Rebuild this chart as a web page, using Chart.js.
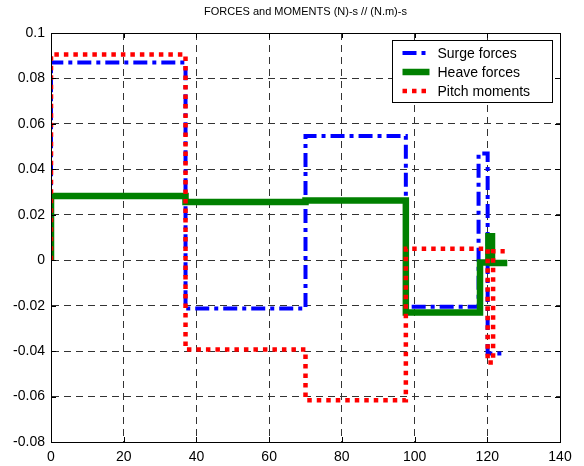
<!DOCTYPE html>
<html><head><meta charset="utf-8">
<script src="https://cdn.jsdelivr.net/npm/chart.js@4.4.1/dist/chart.umd.min.js"></script>
<style>html,body{margin:0;padding:0;background:#fff;}canvas{display:block}</style>
</head><body>
<canvas id="c" width="584" height="466"></canvas>
<script>
const chartTitle = 'FORCES and MOMENTS (N)-s // (N.m)-s';
const seriesNames = ['Surge forces', 'Heave forces', 'Pitch moments'];
const surgeX = [0, 0, 37, 37, 70, 70, 97.6, 97.6, 117.6, 117.6, 120.1, 120.1, 124.4];
const surgeY = [0, 0.087, 0.087, -0.0213, -0.0213, 0.0547, 0.0547, -0.0205, -0.0205, 0.047, 0.047, -0.041, -0.041];
const heaveX = [0, 0, 37, 37, 70, 70, 97.6, 97.6, 118, 118, 120.3, 120.3, 121.3, 121.3, 125.5];
const heaveY = [0, 0.0283, 0.0283, 0.0256, 0.0256, 0.0263, 0.0263, -0.023, -0.023, -0.001, -0.001, 0.0105, 0.0105, -0.0012, -0.0012];
const pitchX = [0, 0, 37, 37, 70, 70, 97.6, 97.6, 120.1, 120.1, 121.6, 121.6, 124.8];
const pitchY = [0, 0.0905, 0.0905, -0.0393, -0.0393, -0.0616, -0.0616, 0.0051, 0.0051, -0.045, -0.045, 0.004, 0.004];
const xTicks = [0, 20, 40, 60, 80, 100, 120, 140];
const yTicks = [-0.08, -0.06, -0.04, -0.02, 0, 0.02, 0.04, 0.06, 0.08, 0.1];

const FONT = "'Liberation Sans', Arial, sans-serif";
function pts(xs, ys) { return xs.map((x, i) => ({ x: x, y: ys[i] })); }
const common = { pointRadius: 0, pointHoverRadius: 0, fill: false, tension: 0, borderCapStyle: 'butt', borderJoinStyle: 'miter' };
const datasets = [
  Object.assign({ label: seriesNames[0], data: pts(surgeX, surgeY), borderColor: '#0000ff', borderWidth: 4, borderDash: [14, 5, 4, 5], order: 3 }, common),
  Object.assign({ label: seriesNames[1], data: pts(heaveX, heaveY), borderColor: '#008000', borderWidth: 6.5, borderDash: [], order: 2 }, common),
  Object.assign({ label: seriesNames[2], data: pts(pitchX, pitchY), borderColor: '#ff0000', borderWidth: 4.5, borderDash: [4.5, 5], order: 1 }, common)
];

const framePlugin = {
  id: 'frame',
  afterLayout(chart) {
    // centre the title over the plotting area, as MATLAB does
    if (chart.titleBlock) {
      chart.titleBlock.left = chart.chartArea.left;
      chart.titleBlock.right = chart.chartArea.right;
    }
  },
  afterDraw(chart) {
    const ctx = chart.ctx, a = chart.chartArea;
    const xs = chart.scales.x, ys = chart.scales.y;
    ctx.save();
    ctx.strokeStyle = '#000';
    ctx.lineWidth = 1;
    ctx.setLineDash([]);
    ctx.beginPath();
    xTicks.forEach(v => {
      const p = Math.round(xs.getPixelForValue(v)) + 0.5;
      ctx.moveTo(p, a.bottom); ctx.lineTo(p, a.bottom - 5);
      ctx.moveTo(p, a.top); ctx.lineTo(p, a.top + 5);
    });
    yTicks.forEach(v => {
      const p = Math.round(ys.getPixelForValue(v)) + 0.5;
      ctx.moveTo(a.left, p); ctx.lineTo(a.left + 5, p);
      ctx.moveTo(a.right, p); ctx.lineTo(a.right - 5, p);
    });
    ctx.stroke();
    ctx.strokeRect(Math.round(a.left) + 0.5, Math.round(a.top) + 0.5, Math.round(a.right - a.left), Math.round(a.bottom - a.top));
    // legend
    const bw = 160, bh = 62;
    const bx = Math.round(a.right - 8 - bw) + 0.5, by = Math.round(a.top + 7) + 0.5;
    ctx.fillStyle = '#fff';
    ctx.fillRect(bx, by, bw, bh);
    ctx.strokeRect(bx, by, bw, bh);
    ctx.font = '14px ' + FONT;
    ctx.textBaseline = 'middle';
    ctx.textAlign = 'left';
    chart.data.datasets.forEach((ds, i) => {
      const cy = by + 12.5 + i * 19;
      ctx.save();
      ctx.strokeStyle = ds.borderColor;
      ctx.lineWidth = ds.borderWidth;
      ctx.lineCap = 'butt';
      ctx.setLineDash(ds.borderDash || []);
      ctx.beginPath();
      ctx.moveTo(bx + 10, cy); ctx.lineTo(bx + 37, cy);
      ctx.stroke();
      ctx.restore();
      ctx.fillStyle = '#000';
      ctx.fillText(ds.label, bx + 45, cy + 1);
    });
    ctx.restore();
  }
};

new Chart(document.getElementById('c'), {
  type: 'line',
  data: { datasets: datasets },
  options: {
    responsive: false,
    animation: false,
    events: [],
    layout: { padding: { left: 0, right: 24, top: 0, bottom: 0 } },
    plugins: {
      legend: { display: false },
      tooltip: { enabled: false },
      title: {
        display: true, text: chartTitle, color: '#000',
        font: { family: FONT, size: 11, weight: 'normal', lineHeight: 1.2 },
        padding: { top: 5, bottom: 14.8 }
      }
    },
    scales: {
      x: {
        type: 'linear', min: 0, max: 140,
        afterBuildTicks: s => { s.ticks = xTicks.map(v => ({ value: v })); },
        afterFit: s => { s.height = 24; },
        ticks: { color: '#000', font: { family: FONT, size: 14 }, padding: 7, maxRotation: 0, autoSkip: false },
        grid: { color: '#333', lineWidth: 1, drawTicks: false },
        border: { color: '#000', width: 1, dash: [7, 5] }
      },
      y: {
        type: 'linear', min: -0.08, max: 0.1,
        afterBuildTicks: s => { s.ticks = yTicks.map(v => ({ value: v })); },
        afterFit: s => { s.width = 51; },
        ticks: { color: '#000', font: { family: FONT, size: 14 }, padding: 6, autoSkip: false,
          callback: v => String(Number(Number(v).toFixed(2))) },
        grid: { color: '#333', lineWidth: 1, drawTicks: false },
        border: { color: '#000', width: 1, dash: [7, 5] }
      }
    }
  },
  plugins: [framePlugin]
});
</script>
</body></html>
